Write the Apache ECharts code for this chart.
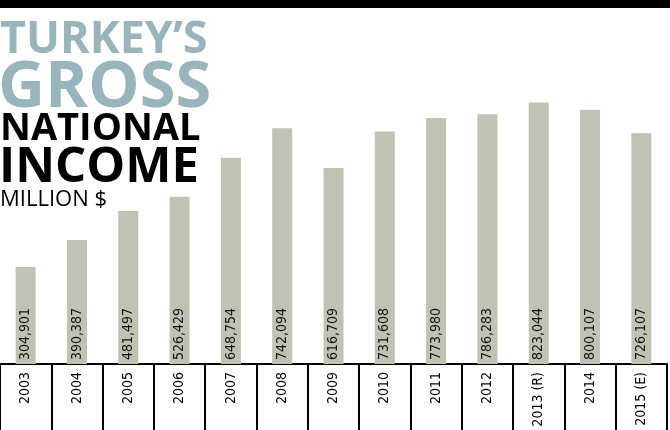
<!DOCTYPE html>
<html>
<head><meta charset="utf-8"></head>
<body style="margin:0;width:670px;height:430px;background:#fff">
<div id="container" style="width:670px;height:430px"></div>
<script src="https://cdn.jsdelivr.net/npm/echarts@6/dist/echarts.min.js"></script>
<script>
var years = ['2003', '2004', '2005', '2006', '2007', '2008', '2009', '2010', '2011', '2012', '2013 (R)', '2014', '2015 (E)'];
var income = [304901, 390387, 481497, 526429, 648754, 742094, 616709, 731608, 773980, 786283, 823044, 800107, 726107];

var chart = echarts.init(document.getElementById('container'));
var blue = '#97b5bb';
chart.setOption({
  animation: false,
  grid: { left: -1, right: 3, top: 10, bottom: 66 },
  xAxis: {
    type: 'category',
    data: years,
    axisLine: { lineStyle: { color: '#000', width: 2 } },
    axisTick: { show: true, length: 68, lineStyle: { color: '#000', width: 2 } },
    axisLabel: { rotate: 90, color: '#000', fontSize: 14, fontFamily: 'DejaVu Sans Condensed', margin: 8 }
  },
  yAxis: { type: 'value', min: 0, max: 1114000, show: false, splitLine: { show: false } },
  series: [{
    type: 'bar',
    data: income,
    barWidth: 20,
    itemStyle: { color: '#c1c2b3' },
    label: {
      show: true,
      position: 'insideBottom',
      rotate: 90,
      align: 'left',
      verticalAlign: 'middle',
      distance: 4,
      color: '#111',
      fontSize: 14,
      fontFamily: 'DejaVu Sans Condensed',
      formatter: function (p) { return p.value.toLocaleString('en-US'); }
    }
  }],
  graphic: [
    { type: 'rect', left: 0, top: 0, shape: { width: 670, height: 8 }, style: { fill: '#000' } },
    { type: 'text', left: 0, top: 18, style: { text: 'TURKEY\u2019S', font: 'bold 45px "Open Sans"', fill: blue } },
    { type: 'text', left: -2, top: 56, style: { text: 'GROSS', font: 'bold 65px "Open Sans"', fill: blue } },
    { type: 'text', left: 0, top: 110, style: { text: 'NATIONAL', font: 'bold 38px "Open Sans"', fill: '#000' } },
    { type: 'text', left: -1, top: 144, style: { text: 'INCOME', font: 'bold 49px "Open Sans"', fill: '#000' } },
    { type: 'text', left: 0, top: 189, style: { text: 'MILLION $', font: '22px "Open Sans"', fill: '#000' } }
  ]
});
</script>
</body>
</html>
